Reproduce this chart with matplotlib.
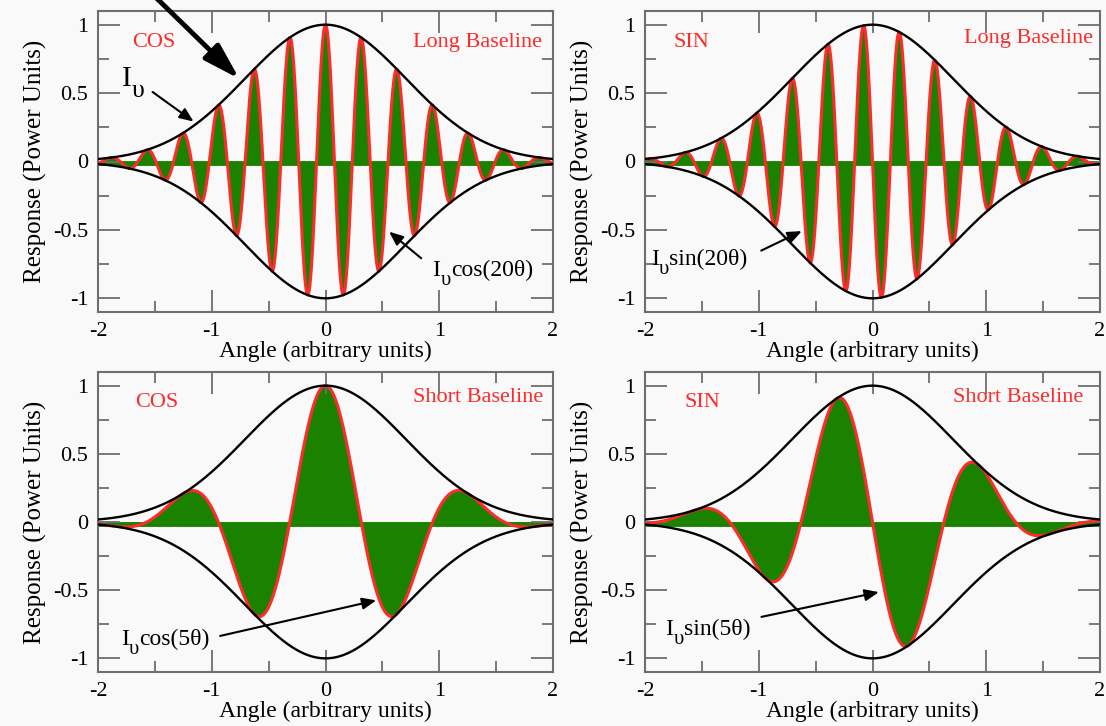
import numpy as np
import matplotlib
matplotlib.use('Agg')
import matplotlib.pyplot as plt
from matplotlib.ticker import MultipleLocator

plt.rcParams['font.family'] = ['Liberation Serif', 'DejaVu Serif']
plt.rcParams['axes.unicode_minus'] = False

# values
theta_range = (-2, 2)
envelope_width = 1.0          # I_v = exp(-(theta / width)^2)
long_freq = 20
short_freq = 5
panel_func = ['cos', 'sin', 'cos', 'sin']
panel_freq = [long_freq, long_freq, short_freq, short_freq]
panel_tag = ['COS', 'SIN', 'COS', 'SIN']
panel_base = ['Long Baseline', 'Long Baseline', 'Short Baseline', 'Short Baseline']
panel_label = ['cos(20θ)', 'sin(20θ)', 'cos(5θ)', 'sin(5θ)']
x_ticks = [-2, -1, 0, 1, 2]
y_ticks = [-1, -0.5, 0, 0.5, 1]
y_tick_labels = ['-1', '-0.5', '0', '0.5', '1']

# label / arrow placement (data coords): text baseline pos, arrow start, arrow tip
label_pos = [(0.94, -0.84), (-1.95, -0.76), (-1.80, -0.90), (-1.82, -0.83)]
arrow_from = [(0.86, -0.72), (-1.00, -0.66), (-0.95, -0.84), (-1.00, -0.70)]
arrow_to = [(0.54, -0.50), (-0.60, -0.50), (0.47, -0.57), (0.08, -0.51)]
tag_pos = [(-1.70, 0.87), (-1.75, 0.87), (-1.67, 0.88), (-1.65, 0.88)]
base_pos = [(1.90, 0.87), (1.94, 0.90), (1.91, 0.91), (1.85, 0.91)]

green = '#1a8200'
red = '#ff2a2a'
gray = '#6e6e6e'
bg = '#f9f9f9'

fig = plt.figure(figsize=(11.06, 7.26), dpi=100, facecolor=bg)
rects = [
    [98 / 1106, 1 - 312 / 726, 455 / 1106, 301 / 726],
    [645 / 1106, 1 - 312 / 726, 455 / 1106, 301 / 726],
    [98 / 1106, 1 - 672 / 726, 455 / 1106, 300 / 726],
    [645 / 1106, 1 - 672 / 726, 455 / 1106, 300 / 726],
]


def iv_text(ax, xy, rest, size):
    # "I" with a big subscript upsilon, then the rest of the label
    t = ax.text(*xy, 'I', fontsize=size, ha='left', va='baseline', zorder=5)
    w = t.get_window_extent().width * 72 / fig.dpi
    sub = ax.annotate('υ', xy=xy, xytext=(w + 0.3, -0.38 * size),
                      textcoords='offset points', fontsize=size * 0.88,
                      ha='left', va='baseline', zorder=5)
    w2 = sub.get_window_extent().width * 72 / fig.dpi
    if rest:
        ax.annotate(rest, xy=xy, xytext=(w + w2 + 0.3, 0),
                    textcoords='offset points', fontsize=size,
                    ha='left', va='baseline', zorder=5)


theta = np.linspace(theta_range[0], theta_range[1], 2001)
env = np.exp(-(theta / envelope_width) ** 2)

axes = []
for i in range(4):
    ax = fig.add_axes(rects[i])
    ax.set_facecolor(bg)
    if panel_func[i] == 'cos':
        resp = env * np.cos(panel_freq[i] * theta)
    else:
        resp = -env * np.sin(panel_freq[i] * theta)

    ax.fill_between(theta, 0, resp, color=green, lw=0, zorder=1)
    ax.axhline(-0.012, color=green, lw=3.5, zorder=1)
    ax.plot(theta, resp, color=red, lw=2.2, zorder=2)
    ax.plot(theta, env, color='black', lw=1.7, zorder=3)
    ax.plot(theta, -env, color='black', lw=1.7, zorder=3)

    ax.set_xlim(*theta_range)
    ax.set_ylim(-1.1, 1.1)
    ax.set_xticks(x_ticks)
    ax.set_yticks(y_ticks)
    ax.set_yticklabels(y_tick_labels)
    ax.xaxis.set_minor_locator(MultipleLocator(0.5))
    ax.yaxis.set_minor_locator(MultipleLocator(0.25))
    ax.tick_params(which='both', direction='in', top=True, right=True,
                   color=gray, width=1.3, labelsize=16, labelcolor='black')
    ax.tick_params(which='major', length=16, pad=7)
    ax.tick_params(which='minor', length=8)
    for sp in ax.spines.values():
        sp.set_color(gray)
        sp.set_linewidth(1.5)

    ax.set_xlabel('Angle (arbitrary units)', fontsize=17, labelpad=0)
    ax.set_ylabel('Response (Power Units)', fontsize=18, labelpad=4)

    ax.text(*tag_pos[i], panel_tag[i], color=red, fontsize=16, ha='left', va='center')
    ax.text(*base_pos[i], panel_base[i], color=red, fontsize=16, ha='right', va='center')

    iv_text(ax, label_pos[i], panel_label[i], 17)
    ax.annotate('', xy=arrow_to[i], xytext=arrow_from[i],
                arrowprops=dict(arrowstyle='-|>,head_length=0.6,head_width=0.25',
                                color='black', lw=1.5, mutation_scale=14), zorder=5)
    axes.append(ax)

# envelope label and the big pointer in the first panel
ax = axes[0]
iv_text(ax, (-1.79, 0.55), '', 21)
ax.annotate('', xy=(-1.14, 0.28), xytext=(-1.54, 0.52),
            arrowprops=dict(arrowstyle='-|>,head_length=0.6,head_width=0.25',
                            color='black', lw=1.5, mutation_scale=14))
ax.annotate('', xy=(-0.74, 0.59), xycoords='data',
            xytext=(140, 744), textcoords='figure pixels',
            arrowprops=dict(arrowstyle='-|>,head_length=1.0,head_width=0.3',
                            color='black', lw=3.5, mutation_scale=22),
            annotation_clip=False)

fig.savefig('out.png', dpi=100, facecolor=bg)
